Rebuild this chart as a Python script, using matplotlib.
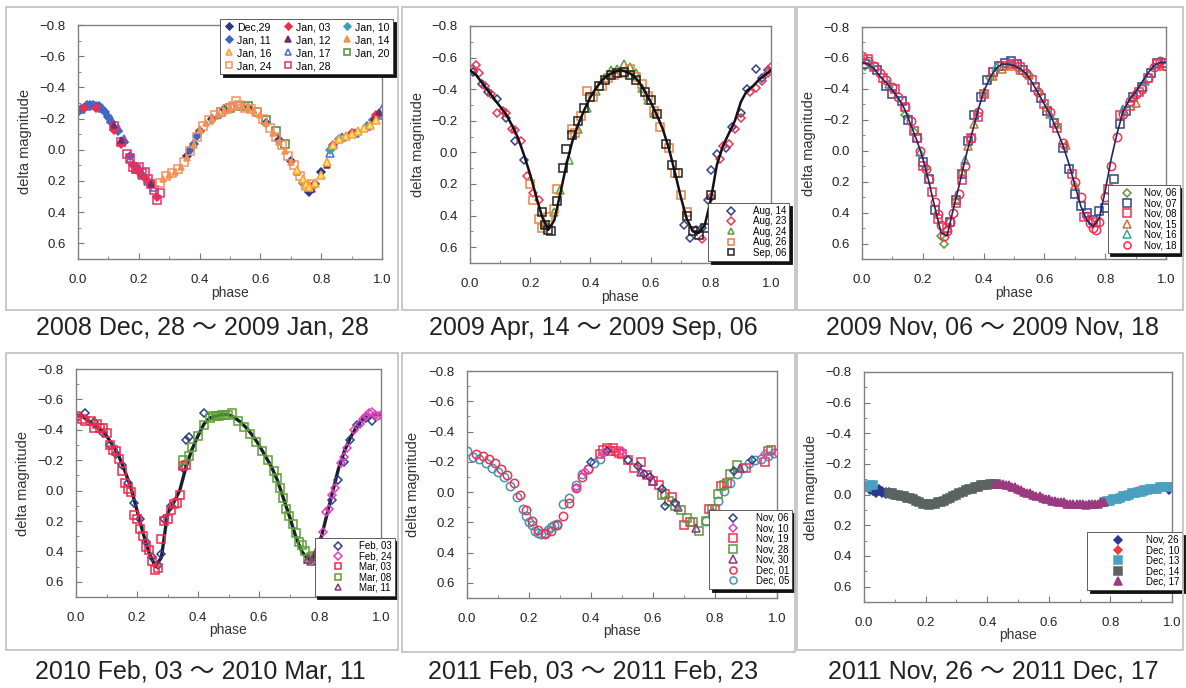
import numpy as np
import matplotlib.pyplot as plt
from matplotlib.patches import Rectangle
from matplotlib.ticker import MultipleLocator

W, H = 1186, 688

# phase grid of the fitted curves (panels 2-4)
curve_phase = [0.00, 0.02, 0.04, 0.06, 0.08, 0.10, 0.12, 0.14, 0.16, 0.18,
               0.20, 0.22, 0.24, 0.26, 0.28, 0.30, 0.32, 0.34, 0.36, 0.38,
               0.40, 0.42, 0.44, 0.46, 0.48, 0.50, 0.52, 0.54, 0.56, 0.58,
               0.60, 0.62, 0.64, 0.66, 0.68, 0.70, 0.72, 0.74, 0.76, 0.78,
               0.80, 0.82, 0.84, 0.86, 0.88, 0.90, 0.92, 0.94, 0.96, 0.98, 1.00]

captions = ["2008 Dec, 28 \uff5e 2009 Jan, 28", "2009 Apr, 14 \uff5e 2009 Sep, 06",
            "2009 Nov, 06 \uff5e 2009 Nov, 18", "2010 Feb, 03 \uff5e 2010 Mar, 11",
            "2011 Feb, 03 \uff5e 2011 Feb, 23", "2011 Nov, 26 \uff5e 2011 Dec, 17"]

# ---------------- panel 1 : 2008 Dec - 2009 Jan ----------------
p1_dec29_x = [0.36, 0.40, 0.44, 0.48, 0.56, 0.62, 0.66, 0.70, 0.74, 0.76, 0.78, 0.80]
p1_dec29_y = [0.04, -0.12, -0.20, -0.26, -0.27, -0.17, -0.06, 0.07, 0.21, 0.27, 0.22, 0.14]
p1_jan03_x = [0.02, 0.06, 0.12, 0.14, 0.18, 0.20, 0.22, 0.24, 0.26, 0.84, 0.90, 0.98]
p1_jan03_y = [-0.27, -0.27, -0.13, -0.04, 0.10, 0.14, 0.18, 0.21, 0.30, -0.03, -0.11, -0.22]
p1_jan10_x = [0.83, 0.84, 0.86, 0.95]
p1_jan10_y = [0.00, -0.02, -0.07, -0.15]
p1_jan11_x = [0.00, 0.01, 0.02, 0.03, 0.04, 0.05, 0.06, 0.07, 0.08, 0.09, 0.10,
              0.11, 0.13, 0.15, 0.17, 0.19, 0.21, 0.37, 0.38, 0.39, 0.97, 0.99]
p1_jan11_y = [-0.24, -0.26, -0.27, -0.29, -0.29, -0.29, -0.28, -0.28, -0.26, -0.24, -0.21,
              -0.18, -0.12, -0.05, 0.04, 0.11, 0.16, 0.00, -0.04, -0.09, -0.19, -0.23]
p1_jan12_x = [0.12, 0.14, 0.24, 0.46, 0.66, 0.72, 0.77, 0.82, 0.97, 0.99]
p1_jan12_y = [-0.16, -0.06, 0.22, -0.22, -0.07, 0.14, 0.25, 0.10, -0.19, -0.24]
p1_jan14_x = [0.28, 0.30, 0.32, 0.34, 0.36, 0.38, 0.40, 0.42, 0.44, 0.46, 0.48, 0.50,
              0.52, 0.54, 0.56, 0.58, 0.60, 0.62, 0.64, 0.66, 0.68, 0.70, 0.72, 0.74]
p1_jan14_y = [0.19, 0.16, 0.14, 0.11, 0.05, -0.03, -0.13, -0.17, -0.20, -0.23, -0.25, -0.27,
              -0.28, -0.28, -0.27, -0.25, -0.22, -0.17, -0.11, -0.05, 0.01, 0.08, 0.14, 0.20]
p1_jan16_x = [0.72, 0.74, 0.75, 0.76, 0.78, 0.80, 0.82, 0.84, 0.86, 0.88, 0.90, 0.92, 0.94, 0.96, 0.98]
p1_jan16_y = [0.13, 0.19, 0.22, 0.24, 0.21, 0.16, 0.08, -0.03, -0.07, -0.09, -0.10, -0.12, -0.14, -0.16, -0.19]
p1_jan17_x = [0.01, 0.03, 0.05, 0.08, 0.11, 0.13, 0.15, 0.17, 0.19, 0.21, 0.23, 0.25,
              0.83, 0.87, 0.91, 0.95, 0.99, 1.00]
p1_jan17_y = [-0.26, -0.28, -0.29, -0.27, -0.20, -0.14, -0.07, 0.06, 0.12, 0.16, 0.20, 0.24,
              0.02, -0.08, -0.11, -0.15, -0.22, -0.26]
p1_jan20_x = [0.47, 0.50, 0.53, 0.56, 0.59, 0.62, 0.65, 0.68]
p1_jan20_y = [-0.24, -0.27, -0.28, -0.28, -0.24, -0.19, -0.12, -0.04]
p1_jan24_x = [0.27, 0.29, 0.31, 0.33, 0.35, 0.37, 0.39, 0.41, 0.43, 0.45, 0.47, 0.49, 0.51, 0.52,
              0.53, 0.55, 0.57, 0.59, 0.61, 0.63, 0.65, 0.67, 0.69, 0.71, 0.73, 0.75, 0.77]
p1_jan24_y = [0.21, 0.17, 0.15, 0.12, 0.08, 0.01, -0.08, -0.15, -0.19, -0.22, -0.24, -0.26, -0.28, -0.31,
              -0.29, -0.27, -0.26, -0.24, -0.20, -0.14, -0.08, -0.03, 0.04, 0.10, 0.17, 0.23, 0.22]
p1_jan28_x = [0.12, 0.14, 0.16, 0.17, 0.18, 0.19, 0.20, 0.21, 0.22, 0.23, 0.24, 0.25, 0.26, 0.27]
p1_jan28_y = [-0.15, -0.05, 0.03, 0.05, 0.11, 0.12, 0.11, 0.15, 0.14, 0.19, 0.22, 0.26, 0.32, 0.28]

# ---------------- panel 2 : 2009 Apr - Sep ----------------
p2_curve = [-0.52, -0.49, -0.44, -0.39, -0.34, -0.29, -0.24, -0.17, -0.09, 0.02,
            0.14, 0.28, 0.41, 0.49, 0.43, 0.26, 0.08, -0.07, -0.18, -0.27,
            -0.35, -0.41, -0.46, -0.49, -0.51, -0.52, -0.51, -0.49, -0.45, -0.39,
            -0.32, -0.24, -0.15, -0.03, 0.12, 0.28, 0.42, 0.50, 0.51, 0.46,
            0.30, 0.08, -0.04, -0.12, -0.20, -0.32, -0.39, -0.42, -0.46, -0.49, -0.52]
p2_aug14_x = [0.01, 0.04, 0.06, 0.09, 0.12, 0.15, 0.18, 0.71, 0.73, 0.75, 0.77, 0.79, 0.80,
              0.82, 0.85, 0.87, 0.90, 0.92, 0.95, 0.97, 0.99]
p2_aug14_y = [-0.51, -0.43, -0.38, -0.34, -0.22, -0.07, 0.05, 0.46, 0.54, 0.49, 0.48, 0.30, 0.11,
              0.01, -0.03, -0.16, -0.25, -0.40, -0.53, -0.47, -0.52]
p2_aug23_x = [0.01, 0.02, 0.03, 0.05, 0.07, 0.09, 0.11, 0.12, 0.14, 0.15, 0.17, 0.19, 0.21, 0.23,
              0.25, 0.77, 0.80, 0.83, 0.84, 0.86, 0.88, 0.90, 0.93, 0.95, 0.97, 0.99, 1.00]
p2_aug23_y = [-0.53, -0.55, -0.50, -0.42, -0.37, -0.25, -0.26, -0.25, -0.15, -0.14, -0.07, 0.15, 0.26, 0.30,
              0.46, 0.55, 0.28, 0.04, -0.04, -0.05, -0.15, -0.22, -0.38, -0.41, -0.45, -0.50, -0.54]
p2_aug24_x = [0.25, 0.28, 0.30, 0.33, 0.36, 0.39, 0.42, 0.45, 0.47, 0.49, 0.51, 0.53, 0.55, 0.57, 0.59, 0.61]
p2_aug24_y = [0.45, 0.38, 0.24, 0.05, -0.15, -0.28, -0.39, -0.47, -0.52, -0.53, -0.56, -0.54, -0.50, -0.41, -0.33, -0.25]
p2_aug26_x = [0.20, 0.21, 0.23, 0.24, 0.26, 0.28, 0.29, 0.34, 0.35, 0.37, 0.39, 0.41, 0.44,
              0.46, 0.48, 0.51, 0.53, 0.55, 0.57, 0.59, 0.61, 0.63, 0.66, 0.68, 0.70, 0.72]
p2_aug26_y = [0.20, 0.30, 0.42, 0.48, 0.41, 0.36, 0.23, -0.15, -0.12, -0.23, -0.39, -0.35, -0.42,
              -0.47, -0.49, -0.50, -0.53, -0.48, -0.43, -0.36, -0.26, -0.16, -0.03, 0.13, 0.27, 0.38]
p2_sep06_x = [0.24, 0.25, 0.26, 0.27, 0.29, 0.31, 0.32, 0.34, 0.36, 0.38, 0.40, 0.43, 0.45, 0.47, 0.49,
              0.51, 0.53, 0.55, 0.58, 0.60, 0.62, 0.65, 0.67, 0.69, 0.72, 0.74, 0.76, 0.78, 0.80]
p2_sep06_y = [0.38, 0.46, 0.49, 0.50, 0.31, 0.10, -0.02, -0.11, -0.20, -0.28, -0.35, -0.42, -0.46, -0.49, -0.50,
              -0.51, -0.49, -0.46, -0.38, -0.33, -0.24, -0.05, 0.08, 0.13, 0.40, 0.50, 0.52, 0.48, 0.27]

# ---------------- panel 3 : 2009 Nov ----------------
p3_curve = [-0.57, -0.56, -0.53, -0.48, -0.44, -0.39, -0.34, -0.27, -0.17, -0.07,
            0.05, 0.20, 0.37, 0.53, 0.55, 0.38, 0.22, 0.05, -0.10, -0.25,
            -0.38, -0.47, -0.53, -0.56, -0.56, -0.55, -0.53, -0.50, -0.44, -0.37,
            -0.30, -0.23, -0.14, -0.04, 0.08, 0.22, 0.36, 0.45, 0.49, 0.44,
            0.26, 0.05, -0.12, -0.26, -0.33, -0.38, -0.44, -0.50, -0.55, -0.57, -0.57]
p3_nov06_x = [0.01, 0.14, 0.17, 0.21, 0.26, 0.27, 0.42, 0.55, 0.89]
p3_nov06_y = [-0.55, -0.23, -0.12, 0.11, 0.55, 0.60, -0.47, -0.49, -0.34]
p3_nov07_x = [0.01, 0.05, 0.08, 0.10, 0.13, 0.15, 0.18, 0.20, 0.22, 0.24, 0.29, 0.31, 0.33, 0.35,
              0.37, 0.39, 0.41, 0.43, 0.45, 0.47, 0.49, 0.51, 0.53, 0.57, 0.59, 0.61, 0.63, 0.66,
              0.68, 0.70, 0.72, 0.74, 0.76, 0.78, 0.80, 0.83, 0.85, 0.87, 0.89, 0.92, 0.95, 0.97, 1.00]
p3_nov07_y = [-0.56, -0.52, -0.42, -0.37, -0.32, -0.20, -0.08, 0.07, 0.18, 0.38, 0.46, 0.32, 0.15, -0.06,
              -0.23, -0.35, -0.46, -0.51, -0.55, -0.57, -0.58, -0.56, -0.52, -0.41, -0.34, -0.26, -0.18, -0.02,
              0.12, 0.28, 0.36, 0.40, 0.45, 0.39, 0.37, 0.18, -0.17, -0.26, -0.35, -0.41, -0.50, -0.57, -0.57]
p3_nov08_x = [0.02, 0.04, 0.07, 0.11, 0.14, 0.17, 0.20, 0.23, 0.25, 0.28, 0.31, 0.33, 0.36, 0.38, 0.40, 0.43,
              0.46, 0.49, 0.52, 0.56, 0.60, 0.64, 0.69, 0.73, 0.77, 0.81, 0.85, 0.88, 0.91, 0.94, 0.97, 0.99]
p3_nov08_y = [-0.59, -0.54, -0.47, -0.40, -0.28, -0.13, 0.10, 0.27, 0.44, 0.50, 0.34, 0.19, -0.08, -0.22, -0.37, -0.51,
              -0.55, -0.56, -0.54, -0.46, -0.30, -0.15, 0.15, 0.43, 0.46, 0.25, -0.23, -0.29, -0.38, -0.47, -0.56, -0.55]
p3_nov15_x = [0.31, 0.33, 0.35, 0.37, 0.40, 0.43, 0.46, 0.49, 0.52, 0.55, 0.58, 0.61, 0.64, 0.67, 0.70, 0.90]
p3_nov15_y = [0.31, 0.13, -0.03, -0.17, -0.38, -0.48, -0.53, -0.55, -0.52, -0.49, -0.39, -0.28, -0.17, -0.04, 0.22, -0.31]
p3_nov16_x = [0.03, 0.09, 0.19, 0.34, 0.44, 0.62, 0.86, 0.93]
p3_nov16_y = [-0.56, -0.43, 0.01, 0.06, -0.54, -0.24, -0.27, -0.45]
p3_nov18_x = [0.00, 0.02, 0.04, 0.06, 0.08, 0.10, 0.12, 0.14, 0.16, 0.18, 0.19, 0.21, 0.22, 0.24, 0.25, 0.26,
              0.27, 0.28, 0.29, 0.30, 0.32, 0.34, 0.36, 0.38, 0.50, 0.54, 0.58, 0.62, 0.66, 0.70, 0.72, 0.74,
              0.75, 0.76, 0.77, 0.78, 0.80, 0.82, 0.84, 0.86, 0.88, 0.90, 0.92, 0.94, 0.96, 0.98, 1.00]
p3_nov18_y = [-0.61, -0.58, -0.55, -0.50, -0.46, -0.41, -0.35, -0.28, -0.19, -0.08, 0.00, 0.12, 0.18, 0.33, 0.41, 0.48,
              0.55, 0.52, 0.46, 0.40, 0.28, 0.10, -0.08, -0.25, -0.57, -0.50, -0.38, -0.25, -0.05, 0.20, 0.30, 0.42,
              0.47, 0.50, 0.51, 0.46, 0.30, 0.10, -0.09, -0.24, -0.32, -0.37, -0.40, -0.47, -0.54, -0.58, -0.55]

# ---------------- panel 4 : 2010 Feb - Mar ----------------
p4_curve = [-0.50, -0.49, -0.46, -0.43, -0.40, -0.36, -0.30, -0.23, -0.13, -0.02,
            0.13, 0.28, 0.41, 0.50, 0.44, 0.15, 0.08, 0.00, -0.15, -0.27,
            -0.36, -0.44, -0.48, -0.49, -0.50, -0.50, -0.48, -0.45, -0.41, -0.36,
            -0.30, -0.23, -0.16, -0.07, 0.05, 0.17, 0.30, 0.40, 0.45, 0.44,
            0.34, 0.18, 0.02, -0.14, -0.26, -0.35, -0.42, -0.47, -0.49, -0.50, -0.50]
p4_feb03_x = [0.03, 0.06, 0.09, 0.11, 0.13, 0.15, 0.17, 0.19, 0.21, 0.23, 0.25, 0.27, 0.28,
              0.29, 0.31, 0.35, 0.36, 0.37, 0.42, 0.84, 0.86, 0.88, 0.90, 0.92, 0.95, 0.97]
p4_feb03_y = [-0.51, -0.45, -0.38, -0.30, -0.24, -0.17, -0.05, 0.08, 0.19, 0.34, 0.44, 0.49, 0.42,
              0.19, 0.10, -0.15, -0.33, -0.35, -0.51, 0.06, -0.07, -0.19, -0.33, -0.43, -0.48, -0.46]
p4_feb24_x = [0.81, 0.82, 0.83, 0.84, 0.85, 0.87, 0.88, 0.89, 0.91, 0.93, 0.94, 0.95, 0.96, 0.97, 0.98, 0.99, 1.00]
p4_feb24_y = [0.27, 0.14, 0.12, 0.03, -0.02, -0.18, -0.22, -0.28, -0.40, -0.44, -0.47, -0.49, -0.51, -0.52, -0.50, -0.49, -0.50]
p4_mar03_x = [0.00, 0.02, 0.03, 0.05, 0.06, 0.07, 0.08, 0.09, 0.10, 0.11, 0.12, 0.13, 0.14, 0.15, 0.16, 0.17, 0.18, 0.19,
              0.20, 0.21, 0.22, 0.23, 0.24, 0.25, 0.26, 0.27, 0.28, 0.29, 0.30, 0.31, 0.32, 0.33, 0.34, 0.35, 0.36]
p4_mar03_y = [-0.49, -0.47, -0.46, -0.46, -0.41, -0.44, -0.41, -0.41, -0.38, -0.30, -0.27, -0.26, -0.21, -0.13, -0.05, -0.01, 0.01, 0.16,
              0.19, 0.25, 0.30, 0.37, 0.39, 0.46, 0.52, 0.51, 0.32, 0.20, 0.19, 0.13, 0.09, 0.08, 0.03, -0.16, -0.17]
p4_mar08_x = [0.35, 0.37, 0.38, 0.40, 0.42, 0.44, 0.45, 0.46, 0.47, 0.48, 0.49, 0.50, 0.51, 0.53, 0.55, 0.57, 0.59,
              0.61, 0.63, 0.65, 0.66, 0.67, 0.68, 0.69, 0.70, 0.71, 0.72, 0.73, 0.74, 0.75, 0.76, 0.77, 0.78]
p4_mar08_y = [-0.20, -0.23, -0.29, -0.36, -0.43, -0.48, -0.49, -0.49, -0.49, -0.50, -0.50, -0.50, -0.51, -0.46, -0.42, -0.37, -0.32,
              -0.26, -0.20, -0.13, -0.08, -0.02, 0.05, 0.12, 0.17, 0.22, 0.28, 0.34, 0.36, 0.40, 0.45, 0.44, 0.43]
p4_mar11_x = [0.76, 0.77, 0.78, 0.79, 0.80]
p4_mar11_y = [0.45, 0.46, 0.43, 0.39, 0.33]

# ---------------- panel 5 : 2011 Feb ----------------
p5_nov06_x = [0.40, 0.45, 0.52, 0.55, 0.57, 0.59, 0.63, 0.64, 0.67, 0.86, 0.92]
p5_nov06_y = [-0.20, -0.27, -0.21, -0.17, -0.12, -0.10, -0.02, 0.09, 0.07, -0.14, -0.21]
p5_nov10_x = [0.35, 0.38, 0.44, 0.50, 0.96, 1.00]
p5_nov10_y = [-0.03, -0.13, -0.25, -0.27, -0.25, -0.26]
p5_nov19_x = [0.43, 0.44, 0.45, 0.46, 0.47, 0.48, 0.49, 0.50, 0.52, 0.54, 0.56, 0.58, 0.60,
              0.62, 0.64, 0.66, 0.70, 0.72, 0.78, 0.80, 0.82, 0.84, 0.90, 0.96, 0.98]
p5_nov19_y = [-0.25, -0.28, -0.29, -0.27, -0.29, -0.27, -0.26, -0.25, -0.21, -0.16, -0.20, -0.11, -0.07,
              -0.05, 0.01, 0.03, 0.22, 0.20, 0.11, 0.11, -0.04, -0.06, -0.16, -0.20, -0.28]
p5_nov28_x = [0.63, 0.65, 0.67, 0.69, 0.71, 0.73, 0.75, 0.77, 0.79, 0.81, 0.83, 0.85, 0.87, 0.97]
p5_nov28_y = [0.02, 0.06, 0.09, 0.12, 0.17, 0.20, 0.26, 0.19, 0.11, 0.01, -0.05, -0.12, -0.18, -0.27]
p5_nov30_x = [0.56, 0.60, 0.68, 0.74, 0.88]
p5_nov30_y = [-0.13, -0.07, 0.10, 0.24, -0.16]
p5_dec01_x = [0.03, 0.05, 0.07, 0.09, 0.11, 0.13, 0.15, 0.17, 0.19, 0.21, 0.23, 0.25, 0.27, 0.29,
              0.31, 0.33, 0.35, 0.37, 0.39]
p5_dec01_y = [-0.25, -0.24, -0.22, -0.19, -0.15, -0.11, -0.06, 0.02, 0.12, 0.19, 0.25, 0.28, 0.26, 0.22,
              0.16, 0.07, -0.03, -0.10, -0.15]
p5_dec05_x = [0.00, 0.02, 0.04, 0.06, 0.08, 0.10, 0.12, 0.14, 0.16, 0.18, 0.19, 0.20, 0.21, 0.22, 0.23, 0.24,
              0.25, 0.26, 0.27, 0.28, 0.29, 0.31, 0.33, 0.35, 0.37, 0.39, 0.41, 0.43, 0.77, 0.79, 0.81, 0.83,
              0.85, 0.87, 0.89, 0.91, 0.93, 0.95, 0.97, 0.99]
p5_dec05_y = [-0.27, -0.23, -0.22, -0.19, -0.16, -0.13, -0.10, -0.04, 0.03, 0.11, 0.16, 0.20, 0.22, 0.26, 0.27, 0.28,
              0.27, 0.25, 0.23, 0.22, 0.21, 0.08, 0.04, -0.05, -0.12, -0.15, -0.19, -0.22, 0.19, 0.14, 0.06, -0.01,
              -0.06, -0.12, -0.16, -0.19, -0.21, -0.22, -0.24, -0.26]

# ---------------- panel 6 : 2011 Nov - Dec ----------------
p6_nov26_x = [0.02, 0.03, 0.04, 0.05, 0.06, 0.07, 0.08, 0.99]
p6_nov26_y = [-0.04, -0.03, -0.02, -0.03, -0.02, -0.01, -0.01, -0.04]
p6_dec10_x = [0.83, 0.86, 0.89, 0.92]
p6_dec10_y = [0.02, 0.00, -0.02, -0.03]
p6_dec13_x = [0.00, 0.01, 0.02, 0.03, 0.78, 0.79, 0.80, 0.81, 0.82, 0.83, 0.84, 0.85, 0.86, 0.87,
              0.88, 0.89, 0.90, 0.91, 0.92, 0.93, 0.94, 0.95, 0.96, 0.97, 0.98, 0.99, 1.00]
p6_dec13_y = [-0.05, -0.05, -0.06, -0.06, 0.05, 0.04, 0.04, 0.03, 0.03, 0.02, 0.01, 0.01, 0.00, -0.01,
              -0.01, -0.02, -0.02, -0.03, -0.03, -0.04, -0.04, -0.04, -0.05, -0.05, -0.05, -0.05, -0.05]
p6_dec14_x = [0.08, 0.09, 0.10, 0.11, 0.12, 0.13, 0.14, 0.15, 0.16, 0.17, 0.18, 0.19, 0.20, 0.21, 0.22, 0.23, 0.24, 0.25,
              0.26, 0.27, 0.28, 0.29, 0.30, 0.31, 0.32, 0.33, 0.34, 0.35, 0.36, 0.37, 0.38, 0.39, 0.40, 0.41, 0.42, 0.43]
p6_dec14_y = [-0.01, -0.01, 0.00, 0.00, 0.01, 0.01, 0.02, 0.02, 0.03, 0.04, 0.05, 0.06, 0.06, 0.07, 0.06, 0.06, 0.05, 0.05,
              0.04, 0.03, 0.02, 0.01, 0.00, -0.01, -0.02, -0.03, -0.04, -0.04, -0.05, -0.05, -0.06, -0.06, -0.06, -0.07, -0.07, -0.07]
p6_dec17_x = [0.43, 0.44, 0.45, 0.46, 0.47, 0.48, 0.49, 0.50, 0.51, 0.52, 0.53, 0.54, 0.55, 0.56, 0.57, 0.58, 0.59, 0.60,
              0.61, 0.62, 0.63, 0.64, 0.65, 0.66, 0.67, 0.68, 0.69, 0.70, 0.71, 0.72, 0.73, 0.74, 0.75, 0.76, 0.77, 0.78]
p6_dec17_y = [-0.07, -0.07, -0.07, -0.06, -0.06, -0.05, -0.05, -0.04, -0.03, -0.02, -0.01, -0.01, 0.00, 0.01, 0.01, 0.02, 0.03, 0.03,
              0.04, 0.04, 0.05, 0.05, 0.05, 0.06, 0.06, 0.06, 0.06, 0.06, 0.06, 0.07, 0.06, 0.06, 0.06, 0.06, 0.05, 0.05]


fig = plt.figure(figsize=(W / 100, H / 100), dpi=100)
fig.patch.set_facecolor('white')
FONT = ['Liberation Sans', 'DejaVu Sans']
CAPFONT = ['Liberation Sans', 'Noto Sans CJK JP']


def frac(x0, y0, x1, y1):
    return [x0 / W, 1 - y1 / H, (x1 - x0) / W, (y1 - y0) / H]


# light grey frames around each sub-figure
for x0, y0, x1, y1 in [(6, 7, 398, 310), (402, 7, 795, 310), (797, 7, 1183, 310),
                       (6, 353, 398, 650), (402, 353, 795, 652), (797, 353, 1183, 650)]:
    fig.add_artist(Rectangle((x0 / W, 1 - y1 / H), (x1 - x0) / W, (y1 - y0) / H,
                             transform=fig.transFigure, fill=False, ec='#c4c4c4', lw=1.3))

axes = [fig.add_axes(frac(78, 25, 382, 259)), fig.add_axes(frac(470, 26, 771, 263)),
        fig.add_axes(frac(862, 27, 1166, 259)), fig.add_axes(frac(76, 369, 381, 597)),
        fig.add_axes(frac(467, 371, 777, 598)), fig.add_axes(frac(864, 372, 1172, 602))]
cap_pos = [(202, 328), (593, 328), (992, 328), (200, 672), (593, 672), (993, 672)]

for ax, cap, (cx, cy) in zip(axes, captions, cap_pos):
    ax.set_xlim(0, 1)
    ax.set_ylim(0.7, -0.8)
    ax.set_xticks([0.0, 0.2, 0.4, 0.6, 0.8, 1.0])
    ax.set_yticks([-0.8, -0.6, -0.4, -0.2, 0.0, 0.2, 0.4, 0.6])
    ax.xaxis.set_minor_locator(MultipleLocator(0.1))
    ax.yaxis.set_minor_locator(MultipleLocator(0.1))
    ax.tick_params(which='both', direction='in', top=False, right=False, color='#777777')
    ax.tick_params(which='major', length=4, labelsize=9.5, labelcolor='#222222')
    ax.tick_params(axis='y', which='major', pad=9)
    ax.tick_params(axis='x', which='major', pad=11)
    ax.tick_params(which='minor', length=2.5)
    for lab in ax.get_xticklabels() + ax.get_yticklabels():
        lab.set_family(FONT)
    for sp in ax.spines.values():
        sp.set_color('#808080')
        sp.set_linewidth(1.0)
    ax.set_xlabel('phase', fontsize=10, family=FONT, color='#333333')
    ax.xaxis.set_label_coords(0.5, -0.115)
    ax.set_ylabel('delta magnitude', fontsize=10.5, family=FONT, color='#333333')
    ax.yaxis.set_label_coords(-0.15, 0.5)
    fig.text(cx / W, 1 - cy / H, cap, ha='center', va='center', fontsize=18,
             family=CAPFONT, color='#222222')


def pts(ax, x, y, marker, color, label, face='none', ms=5.5, mew=1.1):
    line, = ax.plot(x, y, ls='none', marker=marker, mec=color, mfc=face, ms=ms,
                    mew=mew, label=label, zorder=2)
    return line


def legend(ax, handles, right, top, ncol=1, fs=7, **kw):
    opts = dict(borderpad=0.3, labelspacing=0.05, handlelength=3.6, handletextpad=0.1)
    opts.update(kw)
    lg = ax.legend(handles=handles, loc='upper right', ncol=ncol,
                   bbox_to_anchor=(right / W, 1 - top / H), bbox_transform=fig.transFigure,
                   frameon=True, fancybox=False, edgecolor='#444444', framealpha=1,
                   shadow={'color': '#111111', 'alpha': 1}, borderaxespad=0,
                   prop={'family': FONT, 'size': fs}, markerscale=0.85, **opts)
    lg.get_frame().set_linewidth(0.6)
    lg.set_zorder(10)
    return lg


# ---- panel 1 ----
ax = axes[0]
h_dec29 = pts(ax, p1_dec29_x, p1_dec29_y, 'D', '#2b3a80', 'Dec,29', face='#2b3a80', ms=4.2)
h_jan11 = pts(ax, p1_jan11_x, p1_jan11_y, 'D', '#3a66c4', 'Jan, 11', face='#3a66c4', ms=4.2)
h_jan17 = pts(ax, p1_jan17_x, p1_jan17_y, '^', '#4a68d0', 'Jan, 17')
h_jan03 = pts(ax, p1_jan03_x, p1_jan03_y, 'D', '#e8304a', 'Jan, 03', face='#e8304a', ms=4.2)
h_jan28 = pts(ax, p1_jan28_x, p1_jan28_y, 's', '#e33068', 'Jan, 28')
h_jan10 = pts(ax, p1_jan10_x, p1_jan10_y, 'D', '#3f9fb5', 'Jan, 10', face='#3f9fb5', ms=4.2)
h_jan12 = pts(ax, p1_jan12_x, p1_jan12_y, '^', '#6e2f6a', 'Jan, 12', face='#6e2f6a', ms=5)
h_jan20 = pts(ax, p1_jan20_x, p1_jan20_y, 's', '#4f8a3a', 'Jan, 20')
h_jan14 = pts(ax, p1_jan14_x, p1_jan14_y, '^', '#f5934a', 'Jan, 14', face='#f5934a', ms=5)
h_jan24 = pts(ax, p1_jan24_x, p1_jan24_y, 's', '#f39060', 'Jan, 24')
h_jan16 = pts(ax, p1_jan16_x, p1_jan16_y, '^', '#f5a040', 'Jan, 16', face='#ffe45a')
legend(ax, [h_dec29, h_jan11, h_jan16, h_jan24, h_jan03, h_jan12, h_jan17, h_jan28,
            h_jan10, h_jan14, h_jan20], 393, 19, ncol=3, fs=7.6,
       handlelength=1.0, handletextpad=0.25, columnspacing=1.1, labelspacing=0.28)

# ---- panel 2 ----
ax = axes[1]
h1 = pts(ax, p2_aug14_x, p2_aug14_y, 'D', '#34408a', 'Aug, 14', ms=4.5)
h2 = pts(ax, p2_aug23_x, p2_aug23_y, 'D', '#ee3355', 'Aug, 23', ms=4.5)
h3 = pts(ax, p2_aug24_x, p2_aug24_y, '^', '#5aa040', 'Aug, 24')
h4 = pts(ax, p2_aug26_x, p2_aug26_y, 's', '#f08040', 'Aug, 26')
h5 = pts(ax, p2_sep06_x, p2_sep06_y, 's', '#222222', 'Sep, 06')
ax.plot(curve_phase, p2_curve, color='#111111', lw=1.8, zorder=3)
legend(ax, [h1, h2, h3, h4, h5], 789, 203, handlelength=4.2)

# ---- panel 3 ----
ax = axes[2]
h1 = pts(ax, p3_nov06_x, p3_nov06_y, 'D', '#5a9a3a', 'Nov, 06', ms=4.5)
h2 = pts(ax, p3_nov07_x, p3_nov07_y, 's', '#2f4590', 'Nov, 07', ms=6)
h3 = pts(ax, p3_nov08_x, p3_nov08_y, 's', '#ee3355', 'Nov, 08', ms=6)
h4 = pts(ax, p3_nov15_x, p3_nov15_y, '^', '#c8703a', 'Nov, 15', ms=6)
h5 = pts(ax, p3_nov16_x, p3_nov16_y, '^', '#40a0a0', 'Nov, 16', ms=6)
h6 = pts(ax, p3_nov18_x, p3_nov18_y, 'o', '#f03050', 'Nov, 18', ms=6)
ax.plot(curve_phase, p3_curve, color='#1d2a5a', lw=1.2, zorder=3)
legend(ax, [h1, h2, h3, h4, h5, h6], 1180, 185, handlelength=3.4)

# ---- panel 4 ----
ax = axes[3]
h1 = pts(ax, p4_feb03_x, p4_feb03_y, 'D', '#2f3f8a', 'Feb, 03', ms=4.5)
h2 = pts(ax, p4_feb24_x, p4_feb24_y, 'D', '#e040c0', 'Feb, 24', ms=4.5)
h3 = pts(ax, p4_mar03_x, p4_mar03_y, 's', '#ee2b4a', 'Mar, 03')
h4 = pts(ax, p4_mar08_x, p4_mar08_y, 's', '#5aa030', 'Mar, 08')
h5 = pts(ax, p4_mar11_x, p4_mar11_y, '^', '#8a3a7a', 'Mar, 11')
ax.plot(curve_phase, p4_curve, color='#1a1f30', lw=2.4, zorder=1.5)
legend(ax, [h1, h2, h3, h4, h5], 395, 538, handlelength=4.2)

# ---- panel 5 ----
ax = axes[4]
h7 = pts(ax, p5_dec05_x, p5_dec05_y, 'o', '#4a90b0', 'Dec, 05', ms=6)
h6 = pts(ax, p5_dec01_x, p5_dec01_y, 'o', '#f03050', 'Dec, 01', ms=6)
h3 = pts(ax, p5_nov19_x, p5_nov19_y, 's', '#f03050', 'Nov, 19', ms=6)
h4 = pts(ax, p5_nov28_x, p5_nov28_y, 's', '#5a9a3a', 'Nov, 28', ms=6)
h1 = pts(ax, p5_nov06_x, p5_nov06_y, 'D', '#2f3f8a', 'Nov, 06', ms=4.5)
h2 = pts(ax, p5_nov10_x, p5_nov10_y, 'D', '#e040c0', 'Nov, 10', ms=4.5)
h5 = pts(ax, p5_nov30_x, p5_nov30_y, '^', '#8a3a80', 'Nov, 30', ms=6)
legend(ax, [h1, h2, h3, h4, h5, h6, h7], 792, 510, handlelength=4.4)

# ---- panel 6 ----
ax = axes[5]
h1 = pts(ax, p6_nov26_x, p6_nov26_y, 'D', '#2a3a90', 'Nov, 26', face='#2a3a90', ms=4.6)
h2 = pts(ax, p6_dec10_x, p6_dec10_y, 'D', '#ee3a3a', 'Dec, 10', face='#ee3a3a', ms=4.6)
h3 = pts(ax, p6_dec13_x, p6_dec13_y, 's', '#4aa0c0', 'Dec, 13', face='#4aa0c0', ms=6)
h4 = pts(ax, p6_dec14_x, p6_dec14_y, 's', '#5a6262', 'Dec, 14', face='#5a6262', ms=6)
h5 = pts(ax, p6_dec17_x, p6_dec17_y, '^', '#9a3a80', 'Dec, 17', face='#9a3a80', ms=6)
legend(ax, [h1, h2, h3, h4, h5], 1182, 532, handlelength=5.6)

fig.savefig('out.png', dpi=100)
